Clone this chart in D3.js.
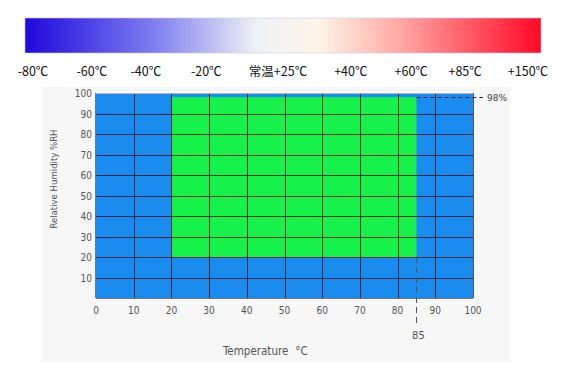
<!DOCTYPE html>
<html><head><meta charset="utf-8">
<script src="https://cdn.jsdelivr.net/npm/d3@7"></script>
<style>body{margin:0;background:#fff}svg{display:block}</style>
</head><body>
<svg id="c" width="561" height="371"></svg>
<script>
// ---- data ----
const tempLabels = ["-80℃","-60℃","-40℃","-20℃","常温+25℃","+40℃","+60℃","+85℃","+150℃"];
const tempLabelPos = [0.0, 0.119, 0.228, 0.35, 0.495, 0.642, 0.764, 0.873, 1.0];
const gradStops = [0, 0.25, 0.45, 0.57, 0.72, 1];
const gradColors = ["#1f08dd", "#7e7ef0", "#eef2f4", "#fdf4e8", "#ffaca6", "#ff0826"];
const xTicks = [0,10,20,30,40,50,60,70,80,90,100];
const yTicks = [10,20,30,40,50,60,70,80,90,100];
const zoneTemp = [20, 85];      // green zone temperature range
const zoneHum = [20, 98];       // green zone humidity range
const markTemp = 85;
const markHum = 98;

const svg = d3.select("#c");

// gradient bar
const defs = svg.append("defs");
const lg = defs.append("linearGradient").attr("id","g").attr("x1","0").attr("x2","1").attr("y1","0").attr("y2","0");
gradStops.forEach((s,i)=>lg.append("stop").attr("offset",s).attr("stop-color",gradColors[i]));
const bar = {x0:25, x1:541, y0:18, y1:53};
svg.append("rect").attr("x",bar.x0).attr("y",bar.y0).attr("width",bar.x1-bar.x0).attr("height",bar.y1-bar.y0)
  .attr("fill","url(#g)").attr("stroke","#c8c8f0").attr("stroke-width",0.6);
const lx = d3.scaleLinear().domain([0,1]).range([33, 528]);
svg.append("g").selectAll("text").data(tempLabels).join("text")
  .attr("x",(d,i)=>lx(tempLabelPos[i])).attr("y",76)
  .attr("text-anchor","middle")
  .attr("font-family","'Noto Sans CJK SC','Noto Sans',sans-serif").attr("font-size",12.5).attr("fill","#111")
  .text(d=>d);

// panel
svg.append("rect").attr("x",42).attr("y",87).attr("width",468).attr("height",275).attr("fill","#f7f7f7");

const x = d3.scaleLinear().domain([0,100]).range([96,473]);
const y = d3.scaleLinear().domain([0,100]).range([298,93]);

// blue background
svg.append("rect").attr("x",x(0)).attr("y",y(100)).attr("width",x(100)-x(0)).attr("height",y(0)-y(100)).attr("fill","#1b8cef");
// green zone
svg.append("rect").attr("x",x(zoneTemp[0])).attr("y",y(zoneHum[1])).attr("width",x(zoneTemp[1])-x(zoneTemp[0]))
  .attr("height",y(zoneHum[0])-y(zoneHum[1])).attr("fill","#17f24a");

// grid
const grid = svg.append("g").attr("stroke","#1a1a1a").attr("stroke-width",1).attr("opacity",0.85);
grid.selectAll("line.v").data(xTicks.filter(d=>d>0&&d<100)).join("line")
  .attr("x1",d=>Math.round(x(d))+0.5).attr("x2",d=>Math.round(x(d))+0.5).attr("y1",y(100)).attr("y2",y(0));
grid.selectAll("line.h").data(yTicks.filter(d=>d<100)).join("line")
  .attr("y1",d=>Math.round(y(d))+0.5).attr("y2",d=>Math.round(y(d))+0.5).attr("x1",x(0)).attr("x2",x(100));
// top border
svg.append("line").attr("x1",x(0)).attr("x2",x(100)).attr("y1",y(100)+0.5).attr("y2",y(100)+0.5).attr("stroke","#b8b8b8");
// axis lines
svg.append("line").attr("x1",x(0)-0.5).attr("x2",x(0)-0.5).attr("y1",y(100)).attr("y2",y(0)).attr("stroke","#777");
svg.append("line").attr("x1",x(0)).attr("x2",x(100)).attr("y1",y(0)+0.5).attr("y2",y(0)+0.5).attr("stroke","#777");
svg.append("line").attr("x1",x(100)+0.5).attr("x2",x(100)+0.5).attr("y1",y(100)).attr("y2",y(0)).attr("stroke","#555");

// 98% dashed marker
svg.append("line").attr("x1",x(markTemp)).attr("x2",483).attr("y1",Math.round(y(markHum))+0.5).attr("y2",Math.round(y(markHum))+0.5)
  .attr("stroke","#222").attr("stroke-dasharray","4,3");
svg.append("text").attr("x",487).attr("y",y(markHum)+3.5).attr("font-family","'DejaVu Sans',sans-serif")
  .attr("font-size",9).attr("fill","#444").text(markHum+"%");
// 85 dashed marker
svg.append("line").attr("x1",Math.round(x(markTemp))+0.5).attr("x2",Math.round(x(markTemp))+0.5).attr("y1",y(zoneHum[0])).attr("y2",323)
  .attr("stroke","#555").attr("stroke-dasharray","6,4");
svg.append("text").attr("x",x(markTemp)+2).attr("y",339).attr("text-anchor","middle").attr("font-family","'DejaVu Sans',sans-serif")
  .attr("font-size",10).attr("fill","#555").text(markTemp);

// tick labels
const tf = "'DejaVu Sans Condensed','DejaVu Sans',sans-serif";
svg.append("g").selectAll("text").data(xTicks).join("text")
  .attr("x",d=>x(d)).attr("y",314).attr("text-anchor","middle").attr("font-family",tf).attr("font-size",10).attr("fill","#555").text(d=>d);
svg.append("g").selectAll("text").data(yTicks).join("text")
  .attr("x",92).attr("y",d=>y(d)+4).attr("text-anchor","end").attr("font-family",tf).attr("font-size",10).attr("fill","#555").text(d=>d);

// axis titles
svg.append("text").attr("transform","translate(57,179) rotate(-90)").attr("text-anchor","middle")
  .attr("font-family",tf).attr("font-size",9.5).attr("fill","#555").text("Relative Humidity %RH");
const xt = svg.append("text").attr("x",223).attr("y",355)
  .attr("font-family",tf).attr("font-size",11.5).attr("fill","#555");
xt.append("tspan").text("Temperature");
xt.append("tspan").attr("dx",7).text("°C");
</script>
</body></html>
